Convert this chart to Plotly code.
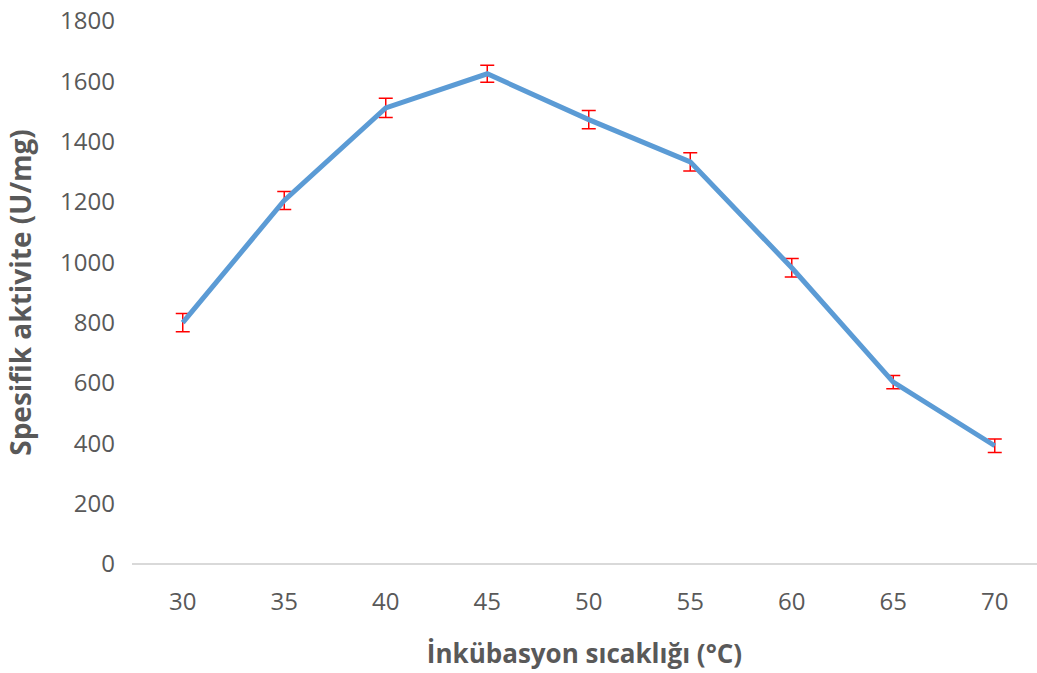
import plotly.graph_objects as go

temps = [30, 35, 40, 45, 50, 55, 60, 65, 70]
activity = [800, 1205, 1512, 1625, 1473, 1333, 982, 603, 392]
errors = [30, 30, 32, 28, 30, 30, 31, 22, 22]
y_ticks = [0, 200, 400, 600, 800, 1000, 1200, 1400, 1600, 1800]

fig = go.Figure()
fig.add_trace(go.Scatter(
    x=temps, y=activity, mode="lines",
    line=dict(color="#5B9BD5", width=5),
    error_y=dict(type="data", array=errors, visible=True,
                 color="#FF0000", thickness=1.5, width=7),
    showlegend=False,
))

font_family = "Open Sans"
fig.update_layout(
    width=1037, height=673,
    margin=dict(l=132, r=0, t=21, b=109),
    paper_bgcolor="white", plot_bgcolor="white",
    font=dict(family=font_family, color="#595959"),
    xaxis=dict(
        range=[27.5, 27.5 + 905 / 101.5 * 5],
        tickvals=temps, ticktext=[str(t) for t in temps],
        showgrid=False, zeroline=False,
        showline=False, ticks="", ticklabelstandoff=21,
        tickfont=dict(size=24, color="#595959"),
        title=dict(text="<b>İnkübasyon sıcaklığı (°C)</b>",
                   font=dict(size=26, color="#595959"), standoff=28),
    ),
    yaxis=dict(
        range=[0, 1800], tickvals=y_ticks,
        showgrid=False, zeroline=True, zerolinecolor="#D9D9D9", zerolinewidth=2,
        showline=False, ticks="", ticklabelstandoff=16,
        tickfont=dict(size=24, color="#595959"),
        title=dict(text="<b>Spesifik aktivite (U/mg)</b>",
                   font=dict(size=28, color="#595959"), standoff=20),
    ),
)
fig.write_html("out.html")
